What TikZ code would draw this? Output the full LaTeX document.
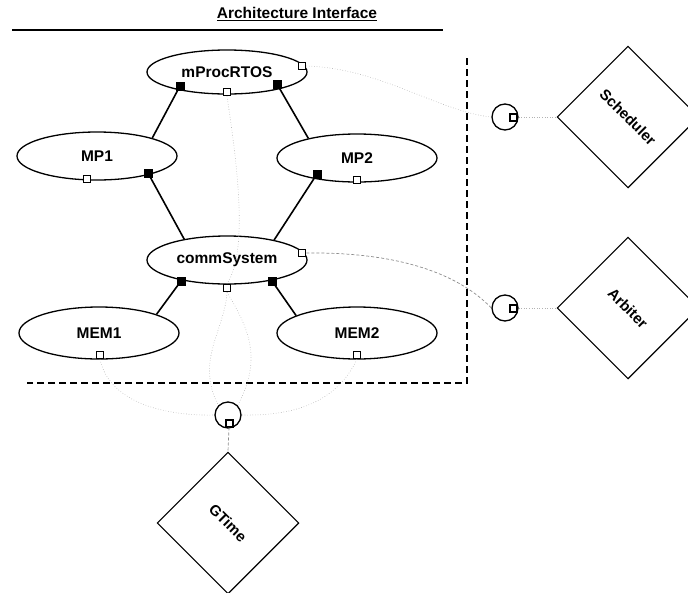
\documentclass[tikz,border=0pt]{standalone}
\usepackage{fontspec}
\setmainfont{Liberation Sans}
\usetikzlibrary{shapes.geometric}
\begin{document}
\begin{tikzpicture}[x=1pt,y=-1pt,
  comp/.style={draw, ellipse, line width=1.3pt, minimum width=160pt, minimum height=48pt, inner sep=0pt, font=\bfseries\fontsize{15.5}{17}\selectfont},
  fport/.style={draw, fill=black, line width=0.6pt, minimum size=8pt, inner sep=0pt},
  hport/.style={draw, fill=white, line width=1.7pt, minimum size=7pt, inner sep=0pt},
  ifc/.style={draw, circle, line width=1.3pt, minimum size=26pt, inner sep=0pt},
  actor/.style={draw, rectangle, line width=1.1pt, minimum size=100pt, rotate=-45, inner sep=0pt, font=\bfseries\fontsize{15}{17}\selectfont},
  link/.style={line width=1.6pt},
  faint/.style={draw=black!30, line width=0.6pt, dotted},
  faintd/.style={draw=black!45, line width=0.7pt, dashed, dash pattern=on 3pt off 2pt},
  border/.style={line width=1.8pt, dash pattern=on 7pt off 4pt}
]
\useasboundingbox (0,0) rectangle (688,592);

% title and rule
\node[font=\bfseries\fontsize{15.5}{17}\selectfont, inner sep=0pt] (title) at (297,14) {\underline{Architecture Interface}};
\coordinate (ruleL) at (12,30);
\coordinate (ruleR) at (443,30);
\draw[line width=1.6pt] (ruleL) -- (ruleR);

% dashed boundary
\coordinate (bTop) at (467,58);
\coordinate (bCorner) at (467,383);
\coordinate (bLeft) at (27,383);
\draw[border] (bTop) -- (bCorner) -- (bLeft);

% components
\node[comp, minimum height=44pt] (rtos) at (227,72) {mProcRTOS};
\node[comp] (mp1) at (97,156) {MP1};
\node[comp] (mp2) at (357,158) {MP2};
\node[comp] (cs) at (227,260) {commSystem};
\node[comp, minimum height=52pt] (mem1) at (99,333) {MEM1};
\node[comp, minimum height=52pt] (mem2) at (357,333) {MEM2};

% ports
\node[fport] (rtosL) at (180,86) {};
\node[fport] (rtosR) at (277,84) {};
\node[hport] (rtosB) at (227,92) {};
\node[hport] (rtosE) at (302,66) {};
\node[hport] (mp1B) at (87,179) {};
\node[fport] (mp1R) at (148,173) {};
\node[fport] (mp2L) at (317,174) {};
\node[hport] (mp2B) at (357,180) {};
\node[fport] (csL) at (181,281) {};
\node[fport] (csR) at (272,281) {};
\node[hport] (csB) at (227,288) {};
\node[hport] (csE) at (302,253) {};
\node[hport] (mem1B) at (100,355) {};
\node[hport] (mem2B) at (357,355) {};

% solid links
\draw[link] (rtosL) -- (mp1.18);
\draw[link] (rtosR) -- (mp2.158);
\draw[link] (mp1R) -- (cs.154);
\draw[link] (mp2L) -- (cs.23);
\draw[link] (csL) -- (mem1.18);
\draw[link] (csR) -- (mem2.164);

% interface circles
\node[ifc] (schedC) at (505,117) {};
\node[ifc] (arbC) at (505,308) {};
\node[ifc] (gtC) at (228,415) {};
\node[hport, line width=2pt] (schedP) at (513,117) {};
\node[hport, line width=2pt] (arbP) at (513,308) {};
\node[hport, line width=2pt] (gtP) at (229,423) {};

% actors
\node[actor] (sched) at (628,117) {Scheduler};
\node[actor] (arb) at (628,308) {Arbiter};
\node[actor] (gt) at (228,523) {GTime};

% faint connectors
\draw[faint] (rtosE.east) .. controls (380,68) and (440,112) .. (schedC.west);
\draw[faintd] (csE.east) .. controls (390,252) and (455,270) .. (arbC.west);
\draw[faint] (schedC.east) -- (sched.south west);
\draw[faint] (arbC.east) -- (arb.south west);
\draw[faintd] (gtP.south) -- (gt.north west);
\draw[faint] (mem1B.south) .. controls (110,405) and (170,416) .. (gtC.west);
\draw[faint] (mem2B.south) .. controls (335,405) and (290,416) .. (gtC.east);
\draw[faint] (csB.south) .. controls (225,330) and (195,360) .. (gtC.north west);
\draw[faint] (csB.south) .. controls (250,330) and (262,360) .. (gtC.north east);
\draw[faint] (rtosB.south) .. controls (235,150) and (250,250) .. (csB.north);
\end{tikzpicture}
\end{document}
